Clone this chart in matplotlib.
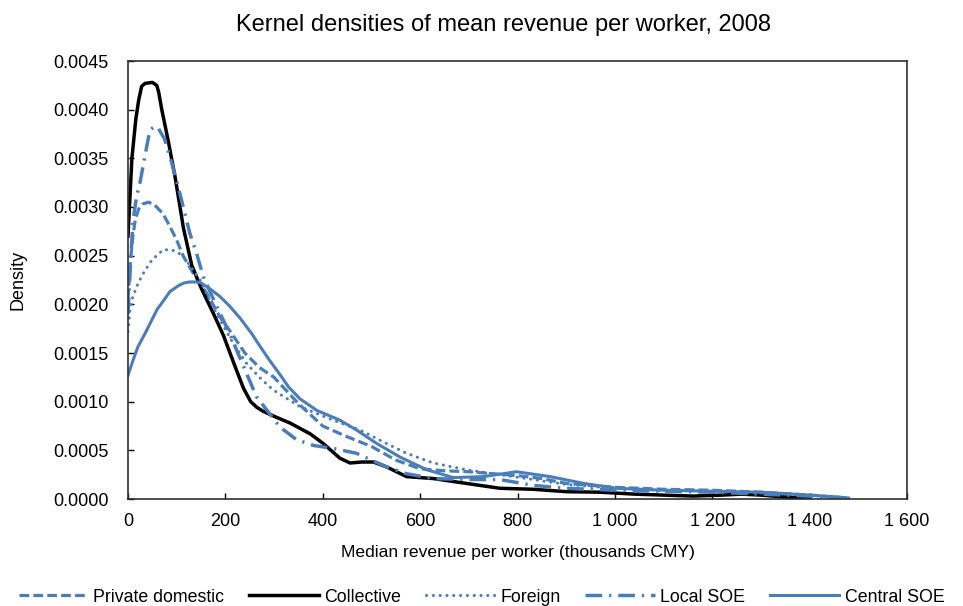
import matplotlib
matplotlib.use("Agg")
import matplotlib.pyplot as plt
from matplotlib.ticker import FuncFormatter

plt.rcParams['lines.scale_dashes'] = False
SANS = ['Liberation Sans', 'DejaVu Sans']

# series (x = thousands CMY, y = density)
private_x = [0, 5, 10, 15, 22, 30, 42, 55, 72, 86, 100, 114, 134, 162, 189, 213, 240, 270, 300,
             350, 400, 450, 500, 550, 600, 650, 700, 750, 800, 850, 900, 1000, 1100, 1200, 1300, 1400, 1480]
private_y = [0.00205, 0.00245, 0.00270, 0.00287, 0.00298, 0.00303, 0.00305, 0.00302, 0.00293, 0.00280,
             0.00266, 0.00249, 0.00232, 0.00211, 0.00187, 0.00170, 0.00150, 0.00135, 0.00125,
             0.00098, 0.00075, 0.00064, 0.00054, 0.00040, 0.00031, 0.00029, 0.00028, 0.00026, 0.00024,
             0.00021, 0.00016, 0.00012, 0.00010, 0.00009, 0.00007, 0.00004, 0.00001]

collective_x = [0, 8, 16, 22, 28, 35, 50, 59, 63, 69, 83, 97, 114, 131, 151, 175, 196, 220, 237, 252,
                265, 278, 300, 333, 374, 401, 435, 456, 480, 504, 531, 572, 627, 695, 764, 832, 901, 969,
                1040, 1100, 1160, 1220, 1260, 1300, 1350, 1400]
collective_y = [0.00270, 0.00350, 0.00390, 0.00410, 0.00424, 0.00427, 0.00428, 0.00425, 0.00418, 0.00401,
                0.00367, 0.00330, 0.00278, 0.00240, 0.00216, 0.00191, 0.00168, 0.00136, 0.00114, 0.00100,
                0.00094, 0.00090, 0.00085, 0.00078, 0.00067, 0.00057, 0.00042, 0.00037, 0.00038, 0.00038,
                0.00033, 0.00023, 0.00021, 0.00016, 0.00011, 0.00010, 0.000075, 0.00007, 0.00005, 0.00004,
                0.00003, 0.00004, 0.00005, 0.00004, 0.00002, 0.00001]

foreign_x = [0, 4, 10, 21, 35, 50, 72, 89, 100, 114, 127, 148, 168, 189, 216, 244, 270, 298, 353, 421,
             476, 531, 572, 627, 695, 764, 832, 900, 1000, 1100, 1200, 1300, 1400, 1480]
foreign_y = [0.00172, 0.00194, 0.00208, 0.00222, 0.00235, 0.00246, 0.00256, 0.00256, 0.00254, 0.00249,
             0.00240, 0.00225, 0.00204, 0.00184, 0.00160, 0.00139, 0.00125, 0.00112, 0.00095, 0.00081,
             0.00071, 0.00057, 0.00047, 0.00037, 0.00030, 0.00025, 0.00020, 0.00015, 0.00011, 0.00009,
             0.00008, 0.00006, 0.00004, 0.00001]

local_x = [0, 5, 10, 18, 25, 35, 45, 55, 62, 75, 90, 103, 117, 127, 141, 155, 182, 209, 223, 264, 312,
           346, 381, 421, 469, 531, 572, 627, 700, 764, 832, 900, 1000, 1100, 1200, 1300, 1400, 1480]
local_y = [0.00190, 0.00240, 0.00285, 0.00312, 0.00326, 0.00353, 0.00379, 0.00383, 0.00381, 0.00370,
           0.00345, 0.00321, 0.00293, 0.00273, 0.00252, 0.00228, 0.00198, 0.00170, 0.00153, 0.00105,
           0.00074, 0.00061, 0.00055, 0.00052, 0.00047, 0.00033, 0.00026, 0.00021, 0.00020, 0.00020,
           0.00014, 0.00011, 0.00009, 0.00008, 0.00007, 0.00005, 0.00003, 0.00001]

central_x = [0, 10, 20, 35, 45, 60, 69, 86, 103, 115, 127, 140, 150, 168, 189, 209, 230, 254, 271, 290,
             312, 330, 353, 388, 435, 469, 511, 559, 614, 668, 730, 798, 867, 936, 1004, 1100, 1200, 1300,
             1400, 1480]
central_y = [0.00127, 0.00142, 0.00156, 0.00170, 0.00180, 0.00195, 0.00201, 0.00213, 0.00219, 0.00222,
             0.00223, 0.00223, 0.00222, 0.00216, 0.00208, 0.00198, 0.00186, 0.00170, 0.00157, 0.00143,
             0.00128, 0.00115, 0.00103, 0.00091, 0.00081, 0.00071, 0.00057, 0.00043, 0.00030, 0.00022,
             0.00023, 0.00028, 0.00023, 0.00016, 0.00011, 0.00009, 0.00008, 0.00007, 0.00004, 0.00001]

x_ticks = [0, 200, 400, 600, 800, 1000, 1200, 1400, 1600]
y_ticks = [0.0, 0.0005, 0.0010, 0.0015, 0.0020, 0.0025, 0.0030, 0.0035, 0.0040, 0.0045]

blue = '#4a7ebb'

fig = plt.figure(figsize=(9.63, 6.06), dpi=100)
ax = fig.add_axes([128 / 963, 1 - 499 / 606, (907 - 128) / 963, (499 - 61) / 606])

ax.plot(private_x, private_y, color=blue, lw=2.3, dashes=(7, 3), label='Private domestic')
ax.plot(collective_x, collective_y, color='black', lw=2.5, label='Collective')
ax.plot(foreign_x, foreign_y, color=blue, lw=2.2, dashes=(0.1, 4.8), dash_capstyle='round', label='Foreign')
ax.plot(local_x, local_y, color=blue, lw=2.5, dashes=(12, 5, 1.6, 5), label='Local SOE')
ax.plot(central_x, central_y, color=blue, lw=2.2, label='Central SOE')

ax.set_xlim(0, 1600)
ax.set_ylim(0, 0.0045)
ax.set_xticks(x_ticks)
ax.set_yticks(y_ticks)
ax.xaxis.set_major_formatter(FuncFormatter(lambda v, p: f'{int(v):,}'.replace(',', ' ')))
ax.yaxis.set_major_formatter(FuncFormatter(lambda v, p: f'{v:.4f}'))
ax.tick_params(direction='in', length=4, width=1, color='black', labelsize=13, pad=14)
ax.tick_params(axis='x', pad=10)
for lab in ax.get_xticklabels() + ax.get_yticklabels():
    lab.set_family(SANS)
for s in ax.spines.values():
    s.set_color('#303030')
    s.set_linewidth(1.2)

fig.text(503 / 963, 1 - 25 / 606, 'Kernel densities of mean revenue per worker, 2008',
         ha='center', va='center', fontsize=17, family=SANS)
fig.text(518 / 963, 1 - 552 / 606, 'Median revenue per worker (thousands CMY)',
         ha='center', va='center', fontsize=12.6, family=SANS)
fig.text(18 / 963, 1 - 280 / 606, 'Density', rotation=90,
         ha='center', va='center', fontsize=13, family=SANS)

fig.legend(loc='center', bbox_to_anchor=(0.5, 1 - 597 / 606), ncol=5, frameon=False,
           prop={'family': SANS, 'size': 12.8}, handlelength=3.9, handletextpad=0.3,
           columnspacing=1.4, borderaxespad=0, borderpad=0)

plt.savefig('out.png', dpi=100)
